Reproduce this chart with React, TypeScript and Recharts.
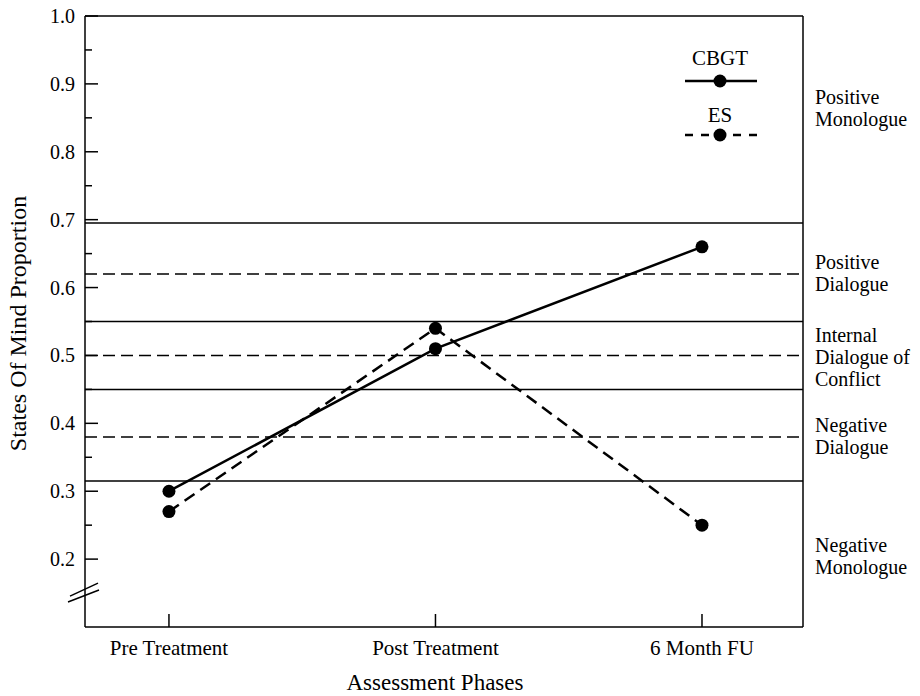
import React from 'react';
import { LineChart, Line, XAxis, YAxis, ReferenceLine, Legend, Label } from 'recharts';

const phases = ['Pre Treatment', 'Post Treatment', '6 Month FU'];
const cbgt = [0.3, 0.51, 0.66];
const es = [0.27, 0.54, 0.25];

const majorTicks = [0.2, 0.3, 0.4, 0.5, 0.6, 0.7, 0.8, 0.9, 1.0];
const minorTicks = [0.25, 0.35, 0.45, 0.55, 0.65, 0.75, 0.85, 0.95];
const breakTick = 0.15;

// category boundaries (solid) and category midlines (dashed)
const solidLevels = [0.695, 0.55, 0.45, 0.315];
const dashedLevels = [0.62, 0.5, 0.38];

const stateLabels = [
  ['Positive', 'Monologue'],
  ['Positive', 'Dialogue'],
  ['Internal', 'Dialogue of', 'Conflict'],
  ['Negative', 'Dialogue'],
  ['Negative', 'Monologue'],
];
const stateLabelPos = [0.865, 0.622, 0.498, 0.381, 0.205];

const seriesDash: Record<string, string | undefined> = { CBGT: undefined, ES: '12 7' };

const rows = phases.map((p, i) => ({ x: i, cbgt: cbgt[i], es: es[i] }));

const FONT = '"Liberation Serif", "Times New Roman", serif';
const near = (a: number, b: number) => Math.abs(a - b) < 1e-6;

const LeftTick = (props: any) => {
  const { x, y, payload } = props;
  const v = payload.value;
  const ax = x + 8;
  if (near(v, breakTick)) {
    return (
      <g stroke="#000" strokeWidth={1.5}>
        <line x1={ax - 17} y1={y + 9} x2={ax + 14} y2={y - 3} />
        <line x1={ax - 15} y1={y + 3} x2={ax + 13} y2={y - 10} />
      </g>
    );
  }
  const major = majorTicks.some((t) => near(t, v));
  return (
    <g>
      <line x1={ax} y1={y} x2={ax + (major ? 13 : 7)} y2={y} stroke="#000" strokeWidth={1.5} />
      {major && (
        <text x={x - 2} y={y + 7} textAnchor="end" fontSize={20} fill="#000" fontFamily={FONT}>
          {v.toFixed(1)}
        </text>
      )}
    </g>
  );
};

const RightTick = (props: any) => {
  const { x, y, payload } = props;
  const idx = stateLabelPos.findIndex((t) => near(t, payload.value));
  const lines = stateLabels[idx] || [];
  const lh = 22;
  return (
    <text x={x + 4} textAnchor="start" fontSize={20} fill="#000" fontFamily={FONT}>
      {lines.map((s, i) => (
        <tspan key={i} x={x + 4} y={y + 7 + (i - (lines.length - 1) / 2) * lh}>
          {s}
        </tspan>
      ))}
    </text>
  );
};

const BottomTick = (props: any) => {
  const { x, y, payload } = props;
  const ay = y - 8;
  return (
    <g>
      <line x1={x} y1={ay} x2={x} y2={ay - 13} stroke="#000" strokeWidth={1.5} />
      <text x={x} y={ay + 28} textAnchor="middle" fontSize={21} fill="#000" fontFamily={FONT}>
        {phases[payload.value]}
      </text>
    </g>
  );
};

const YTitle = (props: any) => {
  const vb = props.viewBox || {};
  const cx = vb.x + 18;
  const cy = vb.y + vb.height / 2 + 2;
  return (
    <text
      x={cx}
      y={cy}
      transform={`rotate(-90, ${cx}, ${cy})`}
      textAnchor="middle"
      dominantBaseline="central"
      fontSize={24}
      fill="#000"
      fontFamily={FONT}
    >
      States Of Mind Proportion
    </text>
  );
};

const LegendBox = (props: any) => {
  const payload = props.payload || [];
  return (
    <svg width={80} height={112} style={{ overflow: 'visible' }}>
      {payload.map((p: any, i: number) => (
        <g key={i}>
          <text x={40} y={25 + i * 57} textAnchor="middle" fontSize={21} fill="#000" fontFamily={FONT}>
            {p.value}
          </text>
          <line
            x1={5}
            x2={77}
            y1={41 + i * 54}
            y2={41 + i * 54}
            stroke="#000"
            strokeWidth={2.5}
            strokeDasharray={seriesDash[p.value] ? '8 8' : undefined}
          />
          <circle cx={40} cy={41 + i * 54} r={6.5} fill="#000" />
        </g>
      ))}
    </svg>
  );
};

export default function App() {
  return (
    <div style={{ width: 920, height: 696, fontFamily: FONT, background: '#fff' }}>
      <style>{'body{margin:0}'}</style>
      <LineChart width={920} height={696} data={rows} margin={{ top: 16, right: 0, left: 0, bottom: 0 }}>
        <XAxis
          dataKey="x"
          type="number"
          domain={[-0.315, 2.379]}
          ticks={[0, 1, 2]}
          interval={0}
          height={69}
          allowDataOverflow
          axisLine={{ stroke: '#000', strokeWidth: 1.5 }}
          tickLine={false}
          tick={<BottomTick />}
        >
          <Label value="Assessment Phases" position="insideBottom" offset={6} fontSize={23} fill="#000" dx={-9} />
        </XAxis>
        <YAxis
          yAxisId="left"
          type="number"
          domain={[0.1, 1]}
          ticks={[breakTick, ...majorTicks, ...minorTicks]}
          interval={0}
          width={85}
          allowDataOverflow
          axisLine={{ stroke: '#000', strokeWidth: 1.5 }}
          tickLine={false}
          tick={<LeftTick />}
        >
          <Label content={<YTitle />} />
        </YAxis>
        <YAxis
          yAxisId="right"
          orientation="right"
          type="number"
          domain={[0.1, 1]}
          ticks={stateLabelPos}
          interval={0}
          width={117}
          allowDataOverflow
          axisLine={{ stroke: '#000', strokeWidth: 1.5 }}
          tickLine={false}
          tick={<RightTick />}
        />
        <ReferenceLine yAxisId="left" y={1} stroke="#000" strokeWidth={1.5} />
        {solidLevels.map((v) => (
          <ReferenceLine key={'s' + v} yAxisId="left" y={v} stroke="#000" strokeWidth={1.5} />
        ))}
        {dashedLevels.map((v) => (
          <ReferenceLine key={'d' + v} yAxisId="left" y={v} stroke="#000" strokeWidth={1.5} strokeDasharray="12 6" />
        ))}
        <Legend
          layout="horizontal"
          verticalAlign="middle"
          align="center"
          content={<LegendBox />}
          wrapperStyle={{ top: 40, left: 680, width: 80, height: 112 }}
        />
        <Line
          yAxisId="left"
          dataKey="cbgt"
          name="CBGT"
          type="linear"
          stroke="#000"
          strokeWidth={2.5}
          dot={{ r: 6.5, fill: '#000', stroke: '#000', strokeWidth: 0 }}
          activeDot={false}
          isAnimationActive={false}
        />
        <Line
          yAxisId="left"
          dataKey="es"
          name="ES"
          type="linear"
          stroke="#000"
          strokeWidth={2.5}
          strokeDasharray={seriesDash.ES}
          dot={{ r: 6.5, fill: '#000', stroke: '#000', strokeWidth: 0, strokeDasharray: '' }}
          activeDot={false}
          isAnimationActive={false}
        />
      </LineChart>
    </div>
  );
}
